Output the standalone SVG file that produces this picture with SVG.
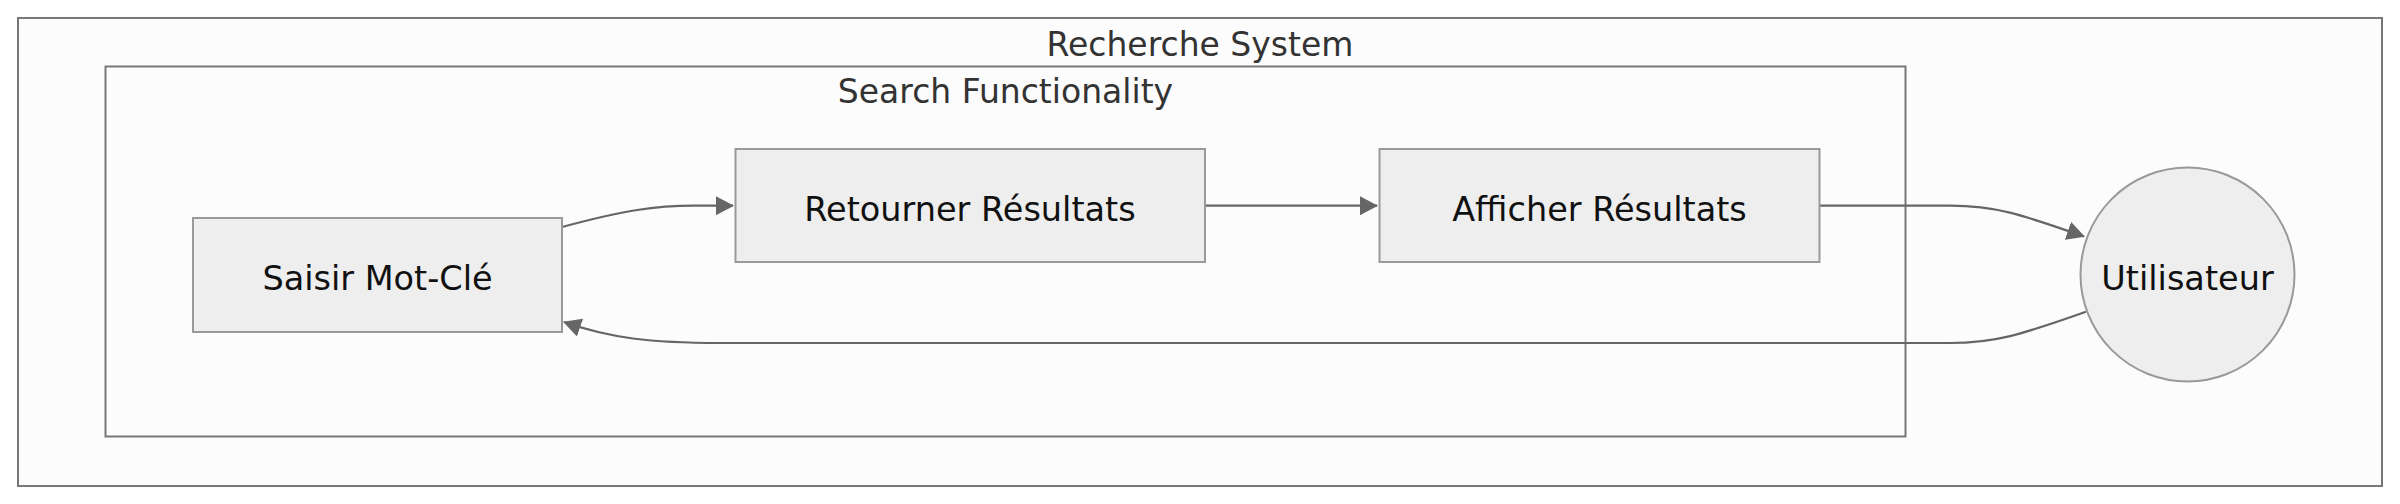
<svg xmlns="http://www.w3.org/2000/svg" width="2400" height="504" viewBox="0 0 2400 504">
<style>
.cluster{fill:#fcfcfc;stroke:#777;stroke-width:2}
.ctitle{font-family:"DejaVu Sans",sans-serif;font-size:33px;fill:#333;text-anchor:middle}
.node{fill:#eee;stroke:#999;stroke-width:2}
.ntext{font-family:"DejaVu Sans",sans-serif;font-size:33.5px;fill:#111;text-anchor:middle}
.edge{fill:none;stroke:#666;stroke-width:2.2}
</style>
<defs>
<marker id="arrow" markerUnits="userSpaceOnUse" viewBox="0 0 18 19" refX="17" refY="9.5" markerWidth="18" markerHeight="19" orient="auto">
<path d="M0,0 L18,9.5 L0,19 z" fill="#666"/>
</marker>
</defs>
<rect width="2400" height="504" fill="#ffffff"/>
<g id="cluster-recherche">
<rect class="cluster" x="18" y="18" width="2364" height="468"/>
<text class="ctitle" x="1200" y="56">Recherche System</text>
</g>
<g id="cluster-search">
<rect class="cluster" x="105.5" y="66.5" width="1800" height="370"/>
<text class="ctitle" x="1005.5" y="103">Search Functionality</text>
</g>
<g id="connectors">
<path class="edge" d="M562,227 C625,210 655,205.7 695,205.7 L733,205.7" marker-end="url(#arrow)"/>
<path class="edge" d="M1205,205.7 L1377,205.7" marker-end="url(#arrow)"/>
<path class="edge" d="M1819.5,205.7 L1950,205.7 C1995,205.7 2020,214 2084,236.5" marker-end="url(#arrow)"/>
<path class="edge" d="M2086,311.7 C2020,335 1995,343 1950,343 L720,343 C650,343 610,338 564,322" marker-end="url(#arrow)"/>
</g>
<g id="node-saisir">
<rect class="node" x="193" y="218" width="369" height="114"/>
<text class="ntext" x="377.5" y="290">Saisir Mot-Clé</text>
</g>
<g id="node-retourner">
<rect class="node" x="735.5" y="149" width="469.5" height="113"/>
<text class="ntext" x="970" y="221">Retourner Résultats</text>
</g>
<g id="node-afficher">
<rect class="node" x="1379.5" y="149" width="440" height="113"/>
<text class="ntext" x="1599.5" y="221">Afficher Résultats</text>
</g>
<g id="node-utilisateur">
<circle class="node" cx="2187.5" cy="274.5" r="107"/>
<text class="ntext" x="2187.5" y="290">Utilisateur</text>
</g>
</svg>
